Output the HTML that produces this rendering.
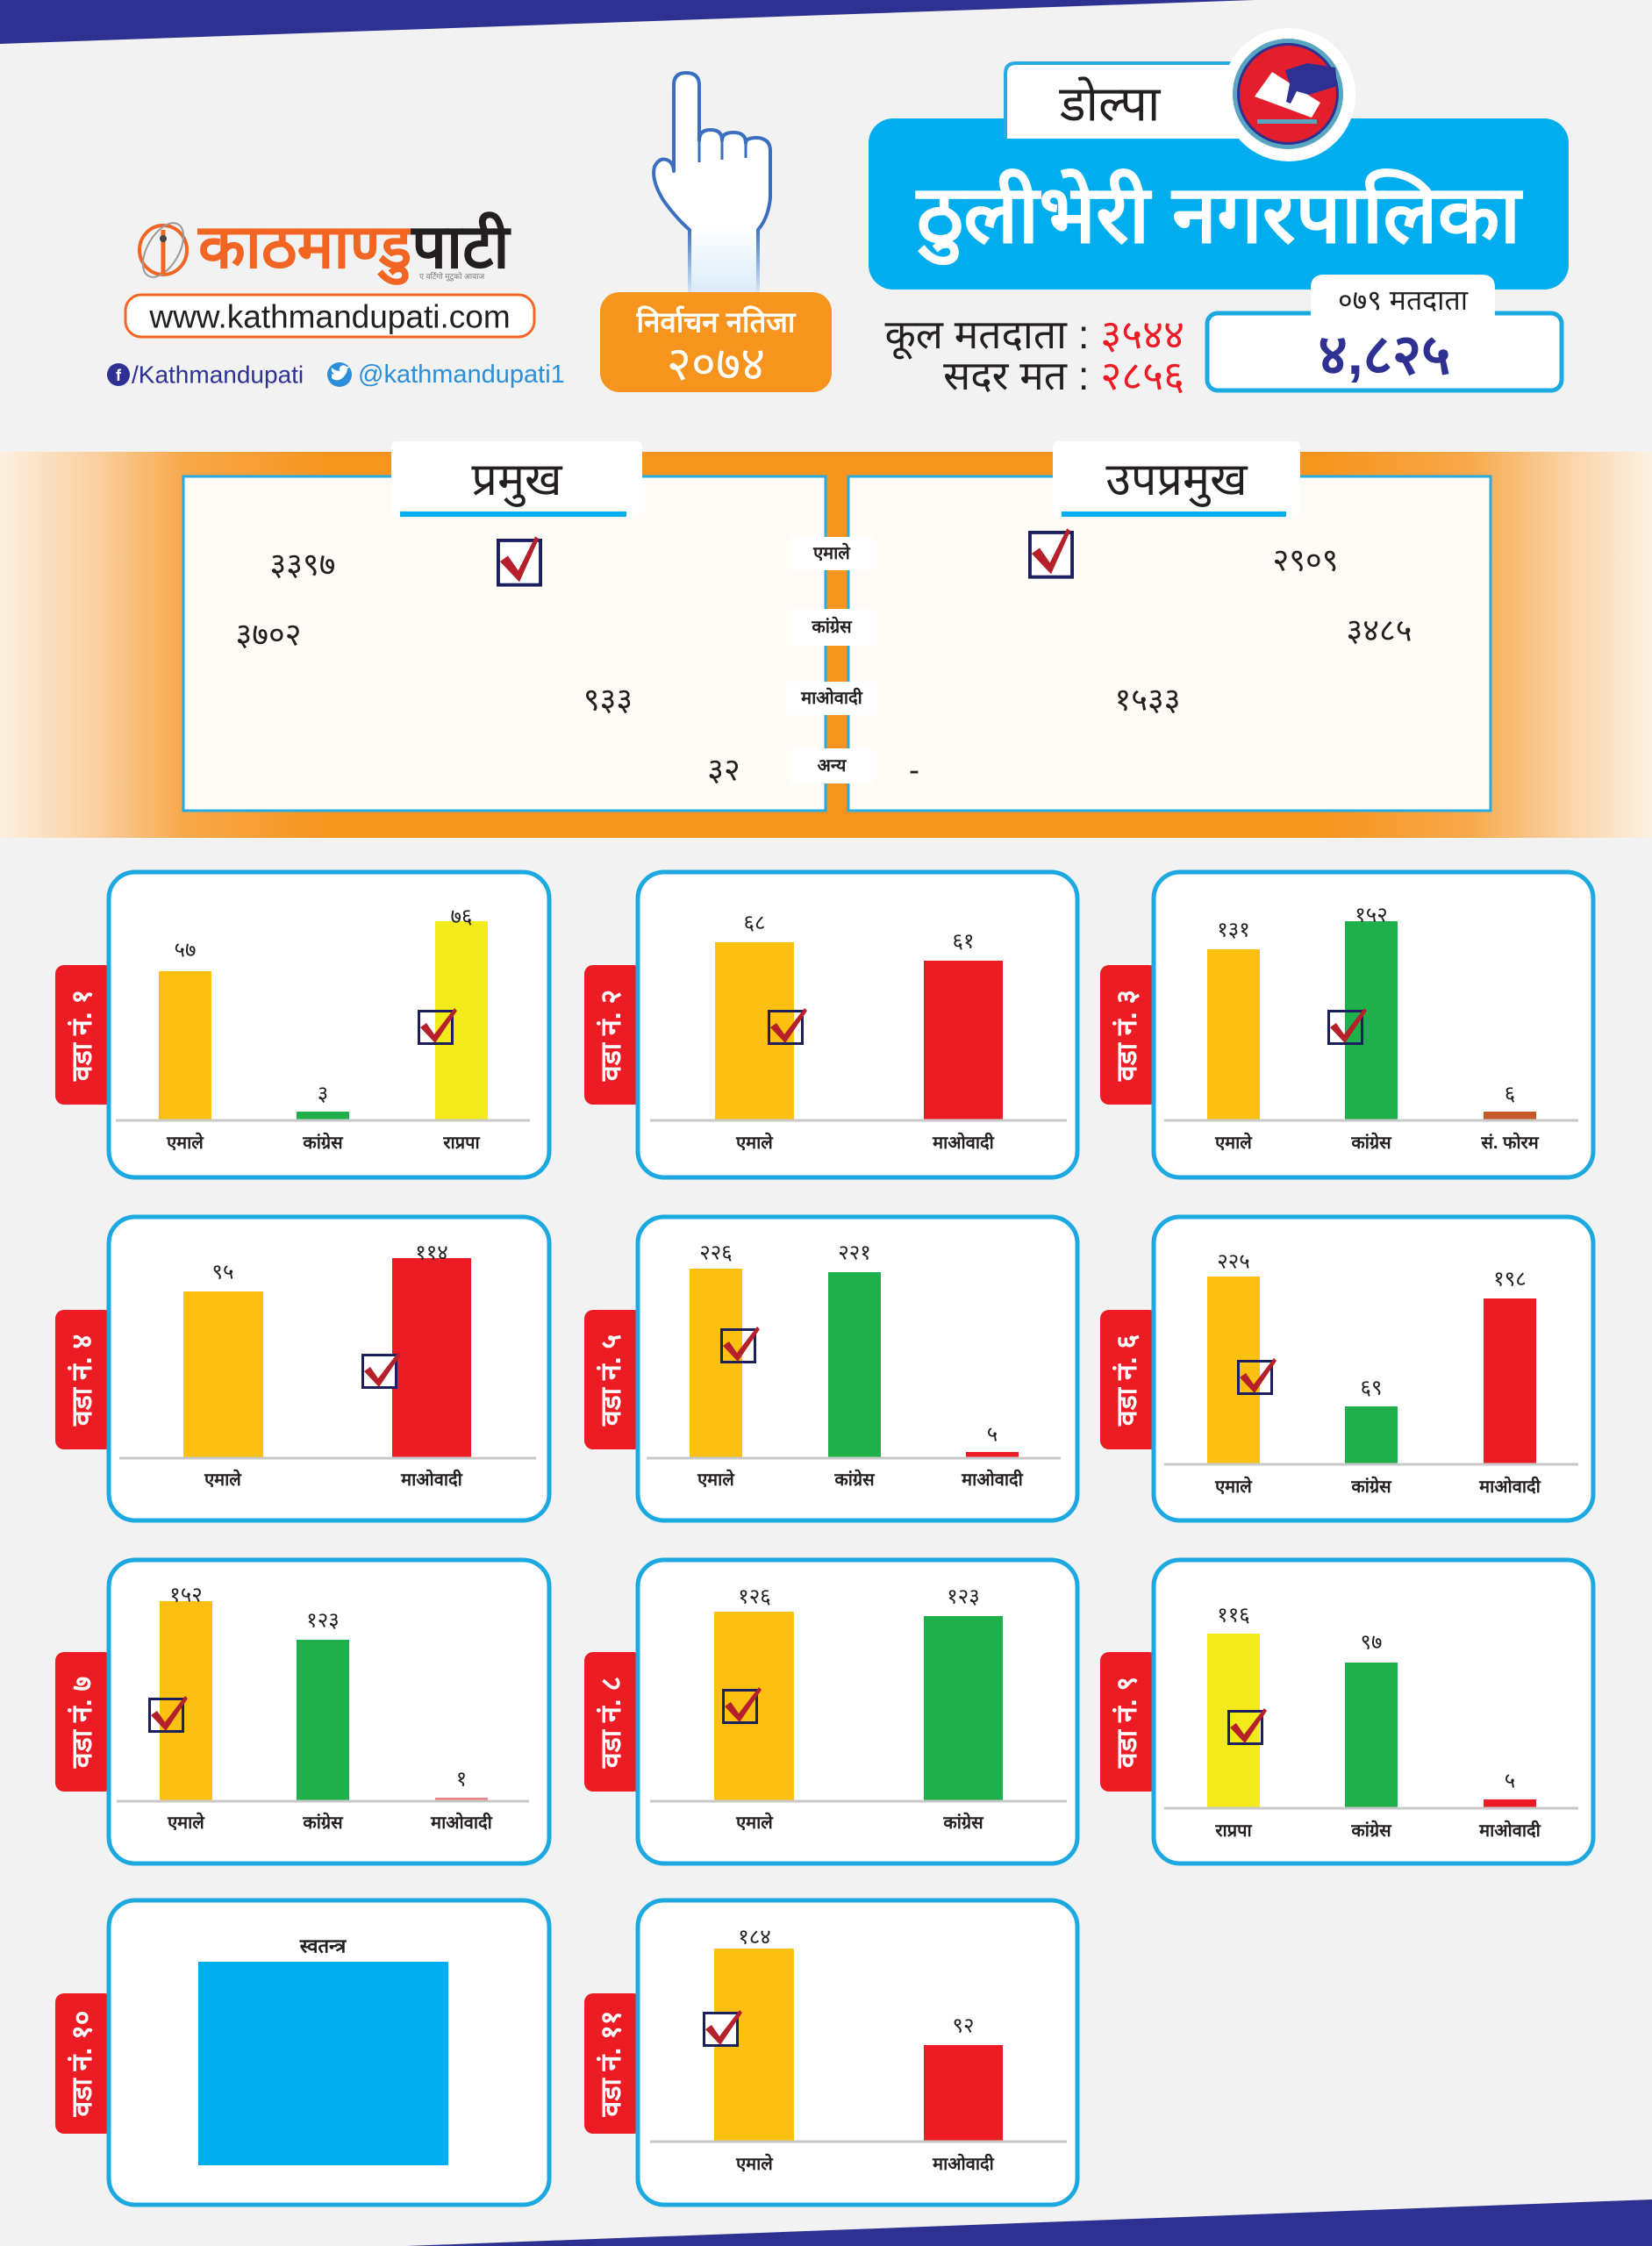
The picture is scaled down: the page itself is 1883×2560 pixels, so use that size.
<!DOCTYPE html>
<html>
<head>
<meta charset="utf-8">
<style>
  html,body{margin:0;padding:0;background:#F2F2F2;}
  body{width:1883px;height:2560px;overflow:hidden;}
  svg{display:block;}
  text{font-family:"Liberation Sans","DejaVu Sans",sans-serif;}
</style>
</head>
<body>
<svg width="1883" height="2560" viewBox="0 0 1883 2560" xmlns="http://www.w3.org/2000/svg">
<defs>
  <linearGradient id="band" x1="0" x2="1" y1="0" y2="0">
    <stop offset="0" stop-color="#FCEFE0"/>
    <stop offset="0.06" stop-color="#F9CF9E"/>
    <stop offset="0.11" stop-color="#F7A94B"/>
    <stop offset="0.2" stop-color="#F7941D"/>
    <stop offset="0.8" stop-color="#F7941D"/>
    <stop offset="0.89" stop-color="#F7A94B"/>
    <stop offset="0.95" stop-color="#F9D4A8"/>
    <stop offset="1" stop-color="#FCF0E2"/>
  </linearGradient>
  <linearGradient id="handStroke" gradientUnits="userSpaceOnUse" x1="0" y1="83" x2="0" y2="333">
    <stop offset="0" stop-color="#3A6FBF"/>
    <stop offset="0.7" stop-color="#3A6FBF"/>
    <stop offset="1" stop-color="#D4E6F7"/>
  </linearGradient>
  <linearGradient id="handFill" gradientUnits="userSpaceOnUse" x1="0" y1="83" x2="0" y2="333">
    <stop offset="0" stop-color="#FFFFFF"/>
    <stop offset="0.7" stop-color="#FFFFFF"/>
    <stop offset="1" stop-color="#DCEBF8"/>
  </linearGradient>
</defs>

<!-- background -->
<rect x="0" y="0" width="1883" height="2560" fill="#F2F2F2"/>
<polygon points="0,0 1430,0 0,50" fill="#2E3192"/>
<polygon points="463,2560 1883,2507 1883,2560" fill="#2E3192"/>

<!-- ===== HEADER ===== -->
<!-- logo icon -->
<g>
  <ellipse cx="186" cy="285" rx="27" ry="28" fill="none" stroke="#F26522" stroke-width="4"/>
  <ellipse cx="186" cy="285" rx="34" ry="18" fill="none" stroke="#9A9A9A" stroke-width="2" transform="rotate(-60 186 285)"/>
  <line x1="186" y1="262" x2="186" y2="312" stroke="#F26522" stroke-width="5"/>
  <circle cx="186" cy="272" r="4" fill="#444"/>
</g>
<text x="226" y="305" font-size="70" font-weight="bold" fill="#F26522">काठमाण्डु<tspan fill="#231F20">पाटी</tspan></text>
<text x="478" y="318" font-size="9" fill="#777">ए वर्टिगो मुटुको आवाज</text>

<rect x="143" y="336" width="466" height="48" rx="18" fill="#FFFFFF" stroke="#F26522" stroke-width="3"/>
<text x="376" y="361" font-size="37" fill="#231F20" text-anchor="middle" dominant-baseline="central">www.kathmandupati.com</text>

<!-- social -->
<circle cx="135" cy="427" r="13" fill="#2E3192"/>
<text x="135" y="428" font-size="18" font-weight="bold" fill="#FFFFFF" text-anchor="middle" dominant-baseline="central">f</text>
<text x="150" y="427" font-size="28" fill="#2E3192" dominant-baseline="central">/Kathmandupati</text>
<circle cx="387" cy="427" r="14" fill="#2A8FD8"/>
<path d="M378,431 Q386,437 393,428 Q396,424 396,420 L399,418 L395,418 Q392,415 389,417 Q386,419 387,423 Q382,423 378,419 Q377,424 381,426 Q379,427 378,426 Z" fill="#FFFFFF"/>
<text x="408" y="427" font-size="29" fill="#2A8FD8" dominant-baseline="central">@kathmandupati1</text>

<!-- hand -->
<path d="M786,333 L786,262 Q770,248 756,228 Q742,205 746,190 Q752,178 762,183 Q768,187 768,195 L768,97 Q768,83 782,83 Q797,83 797,97 L797,160 Q797,148 810,148 Q823,148 823,160 Q823,151 836,151 Q850,151 850,163 Q850,157 863,157 Q878,158 878,172 L878,225 Q876,248 864,262 L864,333 Z"
      fill="url(#handFill)" stroke="none"/>
<path d="M786,333 L786,262 Q770,248 756,228 Q742,205 746,190 Q752,178 762,183 Q768,187 768,195 L768,97 Q768,83 782,83 Q797,83 797,97 L797,160 Q797,148 810,148 Q823,148 823,160 Q823,151 836,151 Q850,151 850,163 Q850,157 863,157 Q878,158 878,172 L878,225 Q876,248 864,262 L864,333"
      fill="none" stroke="url(#handStroke)" stroke-width="4" stroke-linejoin="round"/>
<path d="M797,160 L797,185 M823,160 L823,182 M850,163 L850,180" stroke="#3A6FBF" stroke-width="3" fill="none"/>

<!-- orange result box -->
<rect x="684" y="333" width="264" height="114" rx="22" fill="#F7941D"/>
<text x="816" y="367" font-size="33" font-weight="bold" fill="#FFFFFF" text-anchor="middle" dominant-baseline="central">निर्वाचन नतिजा</text>
<text x="816" y="415" font-size="54" fill="#FFFFFF" text-anchor="middle" dominant-baseline="central">२०७४</text>

<!-- district label -->
<rect x="990" y="135" width="798" height="195" rx="28" fill="#00AEEF"/>
<path d="M1146,158 L1146,84 Q1146,72 1158,72 L1420,72 L1420,158 Z" fill="#FFFFFF"/>
<path d="M1146,158 L1146,84 Q1146,72 1158,72 L1420,72" fill="none" stroke="#29ABE2" stroke-width="4"/>
<text x="1265" y="118" font-size="56" fill="#231F20" text-anchor="middle" dominant-baseline="central">डोल्पा</text>

<!-- ballot logo -->
<circle cx="1469" cy="108" r="76" fill="#FFFFFF"/>
<circle cx="1468" cy="107" r="63" fill="#58A6C2"/>
<circle cx="1468" cy="107" r="58" fill="#2E3192"/>
<circle cx="1468" cy="107" r="55" fill="#E31E2D"/>
<polygon points="1450,82 1430,110 1495,134 1505,117" fill="#FFFFFF"/>
<polygon points="1465,80 1490,72 1522,77 1524,98 1492,108 1478,104 1471,118 1466,116 1470,96" fill="#2E3192"/>
<rect x="1433" y="136" width="68" height="5" fill="#58A6C2"/>

<text x="1389" y="245" font-size="92" font-weight="bold" fill="#FFFFFF" text-anchor="middle" dominant-baseline="central">ठुलीभेरी  नगरपालिका</text>

<!-- voters -->
<rect x="1376" y="357" width="404" height="88" rx="12" fill="#FFFFFF" stroke="#1CA8E0" stroke-width="5"/>
<path d="M1494,362 L1494,328 Q1494,313 1509,313 L1689,313 Q1704,313 1704,328 L1704,362 Z" fill="#FFFFFF"/>
<text x="1599" y="342" font-size="32" fill="#231F20" text-anchor="middle" dominant-baseline="central">०७९ मतदाता</text>
<text x="1578" y="404" font-size="64" font-weight="bold" fill="#2E3192" text-anchor="middle" dominant-baseline="central">४,८२५</text>

<text x="1350" y="381" font-size="46" fill="#231F20" text-anchor="end" dominant-baseline="central">कूल मतदाता : <tspan fill="#ED1C24">३५४४</tspan></text>
<text x="1350" y="428" font-size="46" fill="#231F20" text-anchor="end" dominant-baseline="central">सदर मत : <tspan fill="#ED1C24">२८५६</tspan></text>

<!-- ===== MAIN BAND ===== -->
<rect x="0" y="515" width="1883" height="440" fill="url(#band)"/>
<rect x="209" y="543" width="732" height="381" fill="#FFFBF6" stroke="#29ABE2" stroke-width="3"/>
<rect x="967" y="543" width="732" height="381" fill="#FFFBF6" stroke="#29ABE2" stroke-width="3"/>

<!-- tabs -->
<rect x="446" y="503" width="286" height="85" rx="6" fill="#FFFFFF"/>
<rect x="456" y="583" width="258" height="6" fill="#00AEEF"/>
<text x="589" y="547" font-size="52" fill="#231F20" text-anchor="middle" dominant-baseline="central">प्रमुख</text>
<rect x="1200" y="503" width="282" height="85" rx="6" fill="#FFFFFF"/>
<rect x="1210" y="583" width="256" height="6" fill="#00AEEF"/>
<text x="1341" y="547" font-size="52" fill="#231F20" text-anchor="middle" dominant-baseline="central">उपप्रमुख</text>

<!-- center labels -->
<rect x="900" y="612" width="96" height="38" fill="#FFFFFF"/>
<text x="948" y="631" font-size="20" font-weight="bold" fill="#231F20" text-anchor="middle" dominant-baseline="central">एमाले</text>
<rect x="900" y="694" width="96" height="42" fill="#FFFFFF"/>
<text x="948" y="715" font-size="20" font-weight="bold" fill="#231F20" text-anchor="middle" dominant-baseline="central">कांग्रेस</text>
<rect x="896" y="777" width="104" height="38" fill="#FFFFFF"/>
<text x="948" y="796" font-size="20" font-weight="bold" fill="#231F20" text-anchor="middle" dominant-baseline="central">माओवादी</text>
<rect x="900" y="853" width="96" height="40" fill="#FFFFFF"/>
<text x="948" y="873" font-size="20" font-weight="bold" fill="#231F20" text-anchor="middle" dominant-baseline="central">अन्य</text>

<!-- numbers -->
<g font-size="36" fill="#231F20" text-anchor="middle" dominant-baseline="central">
  <text x="345" y="643" dominant-baseline="central">३३९७</text>
  <text x="306" y="723" dominant-baseline="central">३७०२</text>
  <text x="693" y="797" dominant-baseline="central">९३३</text>
  <text x="825" y="877" dominant-baseline="central">३२</text>
  <text x="1488" y="638" dominant-baseline="central">२९०९</text>
  <text x="1572" y="718" dominant-baseline="central">३४८५</text>
  <text x="1308" y="797" dominant-baseline="central">१५३३</text>
  <text x="1042" y="877" dominant-baseline="central">-</text>
</g>

<!-- big checkboxes -->
<g transform="translate(566,614) scale(1.3)">
  <rect x="1.5" y="1.5" width="37" height="39" fill="#FFFFFF" stroke="#1B1F5E" stroke-width="3"/>
  <polygon points="3,20 10,15 19,28 34,-2 37,0 20,38" fill="#B5202A"/>
</g>
<g transform="translate(1172,605) scale(1.3)">
  <rect x="1.5" y="1.5" width="37" height="39" fill="#FFFFFF" stroke="#1B1F5E" stroke-width="3"/>
  <polygon points="3,20 10,15 19,28 34,-2 37,0 20,38" fill="#B5202A"/>
</g>

<!-- ===== WARD CARDS ===== -->
<!-- Card 1 -->
<rect x="63" y="1100" width="66" height="159" rx="10" fill="#ED1C24"/>
<rect x="124" y="994" width="502" height="348" rx="30" fill="#FFFFFF" stroke="#1CA8E0" stroke-width="5"/>
<text x="93" y="1180" font-size="32" font-weight="bold" fill="#FFFFFF" text-anchor="middle" dominant-baseline="central" transform="rotate(-90 93 1180)">वडा नं. १</text>
<rect x="181" y="1107" width="60" height="169" fill="#FDC010"/>
<rect x="338" y="1267" width="60" height="9" fill="#1FB04B"/>
<rect x="496" y="1050" width="60" height="226" fill="#F2EA1A"/>
<line x1="132" y1="1277" x2="604" y2="1277" stroke="#C8C8C8" stroke-width="3"/>
<g font-size="24" fill="#231F20" text-anchor="middle">
  <text x="211" y="1083" dominant-baseline="central">५७</text>
  <text x="368" y="1247" dominant-baseline="central">३</text>
  <text x="526" y="1045" dominant-baseline="central">७६</text>
</g>
<g font-size="20" font-weight="bold" fill="#231F20" text-anchor="middle">
  <text x="211" y="1303" dominant-baseline="central">एमाले</text>
  <text x="368" y="1303" dominant-baseline="central">कांग्रेस</text>
  <text x="526" y="1303" dominant-baseline="central">राप्रपा</text>
</g>
<g transform="translate(476,1151)">
  <rect x="1.5" y="1.5" width="38" height="37" fill="none" stroke="#1B1F5E" stroke-width="3"/>
  <polygon points="3,20 10,15 19,28 42,-2 45,1 20,38" fill="#B5202A"/>
</g>

<!-- Card 2 -->
<rect x="666" y="1100" width="66" height="159" rx="10" fill="#ED1C24"/>
<rect x="727" y="994" width="501" height="348" rx="30" fill="#FFFFFF" stroke="#1CA8E0" stroke-width="5"/>
<text x="696" y="1180" font-size="32" font-weight="bold" fill="#FFFFFF" text-anchor="middle" dominant-baseline="central" transform="rotate(-90 696 1180)">वडा नं. २</text>
<rect x="815" y="1074" width="90" height="202" fill="#FDC010"/>
<rect x="1053" y="1095" width="90" height="181" fill="#ED1C24"/>
<line x1="741" y1="1277" x2="1216" y2="1277" stroke="#C8C8C8" stroke-width="3"/>
<g font-size="24" fill="#231F20" text-anchor="middle">
  <text x="860" y="1052" dominant-baseline="central">६८</text>
  <text x="1098" y="1073" dominant-baseline="central">६१</text>
</g>
<g font-size="20" font-weight="bold" fill="#231F20" text-anchor="middle">
  <text x="860" y="1303" dominant-baseline="central">एमाले</text>
  <text x="1098" y="1303" dominant-baseline="central">माओवादी</text>
</g>
<g transform="translate(875,1151)">
  <rect x="1.5" y="1.5" width="38" height="37" fill="none" stroke="#1B1F5E" stroke-width="3"/>
  <polygon points="3,20 10,15 19,28 42,-2 45,1 20,38" fill="#B5202A"/>
</g>

<!-- Card 3 -->
<rect x="1254" y="1100" width="66" height="159" rx="10" fill="#ED1C24"/>
<rect x="1315" y="994" width="501" height="348" rx="30" fill="#FFFFFF" stroke="#1CA8E0" stroke-width="5"/>
<text x="1284" y="1180" font-size="32" font-weight="bold" fill="#FFFFFF" text-anchor="middle" dominant-baseline="central" transform="rotate(-90 1284 1180)">वडा नं. ३</text>
<rect x="1376" y="1082" width="60" height="194" fill="#FDC010"/>
<rect x="1533" y="1050" width="60" height="226" fill="#1FB04B"/>
<rect x="1691" y="1267" width="60" height="9" fill="#C65A28"/>
<line x1="1327" y1="1277" x2="1799" y2="1277" stroke="#C8C8C8" stroke-width="3"/>
<g font-size="24" fill="#231F20" text-anchor="middle">
  <text x="1406" y="1060" dominant-baseline="central">१३१</text>
  <text x="1563" y="1043" dominant-baseline="central">१५२</text>
  <text x="1721" y="1247" dominant-baseline="central">६</text>
</g>
<g font-size="20" font-weight="bold" fill="#231F20" text-anchor="middle">
  <text x="1406" y="1303" dominant-baseline="central">एमाले</text>
  <text x="1563" y="1303" dominant-baseline="central">कांग्रेस</text>
  <text x="1721" y="1303" dominant-baseline="central">सं. फोरम</text>
</g>
<g transform="translate(1513,1151)">
  <rect x="1.5" y="1.5" width="38" height="37" fill="none" stroke="#1B1F5E" stroke-width="3"/>
  <polygon points="3,20 10,15 19,28 42,-2 45,1 20,38" fill="#B5202A"/>
</g>

<!-- Card 4 -->
<rect x="63" y="1493" width="66" height="159" rx="10" fill="#ED1C24"/>
<rect x="124" y="1387" width="502" height="346" rx="30" fill="#FFFFFF" stroke="#1CA8E0" stroke-width="5"/>
<text x="93" y="1573" font-size="32" font-weight="bold" fill="#FFFFFF" text-anchor="middle" dominant-baseline="central" transform="rotate(-90 93 1573)">वडा नं. ४</text>
<rect x="209" y="1472" width="91" height="189" fill="#FDC010"/>
<rect x="447" y="1434" width="90" height="227" fill="#ED1C24"/>
<line x1="136" y1="1662" x2="611" y2="1662" stroke="#C8C8C8" stroke-width="3"/>
<g font-size="24" fill="#231F20" text-anchor="middle">
  <text x="254" y="1450" dominant-baseline="central">९५</text>
  <text x="492" y="1428" dominant-baseline="central">११४</text>
</g>
<g font-size="20" font-weight="bold" fill="#231F20" text-anchor="middle">
  <text x="254" y="1687" dominant-baseline="central">एमाले</text>
  <text x="492" y="1687" dominant-baseline="central">माओवादी</text>
</g>
<g transform="translate(412,1543)">
  <rect x="1.5" y="1.5" width="38" height="37" fill="#FFFFFF" stroke="#1B1F5E" stroke-width="3"/>
  <polygon points="3,20 10,15 19,28 42,-2 45,1 20,38" fill="#B5202A"/>
</g>

<!-- Card 5 -->
<rect x="666" y="1493" width="66" height="159" rx="10" fill="#ED1C24"/>
<rect x="727" y="1387" width="501" height="346" rx="30" fill="#FFFFFF" stroke="#1CA8E0" stroke-width="5"/>
<text x="696" y="1573" font-size="32" font-weight="bold" fill="#FFFFFF" text-anchor="middle" dominant-baseline="central" transform="rotate(-90 696 1573)">वडा नं. ५</text>
<rect x="786" y="1446" width="60" height="215" fill="#FDC010"/>
<rect x="944" y="1450" width="60" height="211" fill="#1FB04B"/>
<rect x="1101" y="1655" width="60" height="6" fill="#ED1C24"/>
<line x1="737" y1="1662" x2="1209" y2="1662" stroke="#C8C8C8" stroke-width="3"/>
<g font-size="24" fill="#231F20" text-anchor="middle">
  <text x="816" y="1428" dominant-baseline="central">२२६</text>
  <text x="974" y="1428" dominant-baseline="central">२२१</text>
  <text x="1131" y="1635" dominant-baseline="central">५</text>
</g>
<g font-size="20" font-weight="bold" fill="#231F20" text-anchor="middle">
  <text x="816" y="1687" dominant-baseline="central">एमाले</text>
  <text x="974" y="1687" dominant-baseline="central">कांग्रेस</text>
  <text x="1131" y="1687" dominant-baseline="central">माओवादी</text>
</g>
<g transform="translate(821,1514)">
  <rect x="1.5" y="1.5" width="38" height="37" fill="none" stroke="#1B1F5E" stroke-width="3"/>
  <polygon points="3,20 10,15 19,28 42,-2 45,1 20,38" fill="#B5202A"/>
</g>

<!-- Card 6 -->
<rect x="1254" y="1493" width="66" height="159" rx="10" fill="#ED1C24"/>
<rect x="1315" y="1387" width="501" height="346" rx="30" fill="#FFFFFF" stroke="#1CA8E0" stroke-width="5"/>
<text x="1284" y="1573" font-size="32" font-weight="bold" fill="#FFFFFF" text-anchor="middle" dominant-baseline="central" transform="rotate(-90 1284 1573)">वडा नं. ६</text>
<rect x="1376" y="1455" width="60" height="213" fill="#FDC010"/>
<rect x="1533" y="1603" width="60" height="65" fill="#1FB04B"/>
<rect x="1691" y="1480" width="60" height="188" fill="#ED1C24"/>
<line x1="1327" y1="1669" x2="1799" y2="1669" stroke="#C8C8C8" stroke-width="3"/>
<g font-size="24" fill="#231F20" text-anchor="middle">
  <text x="1406" y="1438" dominant-baseline="central">२२५</text>
  <text x="1563" y="1582" dominant-baseline="central">६९</text>
  <text x="1721" y="1458" dominant-baseline="central">१९८</text>
</g>
<g font-size="20" font-weight="bold" fill="#231F20" text-anchor="middle">
  <text x="1406" y="1695" dominant-baseline="central">एमाले</text>
  <text x="1563" y="1695" dominant-baseline="central">कांग्रेस</text>
  <text x="1721" y="1695" dominant-baseline="central">माओवादी</text>
</g>
<g transform="translate(1410,1550)">
  <rect x="1.5" y="1.5" width="38" height="37" fill="none" stroke="#1B1F5E" stroke-width="3"/>
  <polygon points="3,20 10,15 19,28 42,-2 45,1 20,38" fill="#B5202A"/>
</g>

<!-- Card 7 -->
<rect x="63" y="1883" width="66" height="159" rx="10" fill="#ED1C24"/>
<rect x="124" y="1778" width="502" height="346" rx="30" fill="#FFFFFF" stroke="#1CA8E0" stroke-width="5"/>
<text x="93" y="1963" font-size="32" font-weight="bold" fill="#FFFFFF" text-anchor="middle" dominant-baseline="central" transform="rotate(-90 93 1963)">वडा नं. ७</text>
<rect x="182" y="1825" width="60" height="227" fill="#FDC010"/>
<rect x="338" y="1869" width="60" height="183" fill="#1FB04B"/>
<rect x="496" y="2049" width="60" height="3" fill="#F08080"/>
<line x1="133" y1="2053" x2="603" y2="2053" stroke="#C8C8C8" stroke-width="3"/>
<g font-size="24" fill="#231F20" text-anchor="middle">
  <text x="212" y="1818" dominant-baseline="central">१५२</text>
  <text x="368" y="1847" dominant-baseline="central">१२३</text>
  <text x="526" y="2028" dominant-baseline="central">१</text>
</g>
<g font-size="20" font-weight="bold" fill="#231F20" text-anchor="middle">
  <text x="212" y="2078" dominant-baseline="central">एमाले</text>
  <text x="368" y="2078" dominant-baseline="central">कांग्रेस</text>
  <text x="526" y="2078" dominant-baseline="central">माओवादी</text>
</g>
<g transform="translate(169,1935)">
  <rect x="1.5" y="1.5" width="38" height="37" fill="none" stroke="#1B1F5E" stroke-width="3"/>
  <polygon points="3,20 10,15 19,28 42,-2 45,1 20,38" fill="#B5202A"/>
</g>

<!-- Card 8 -->
<rect x="666" y="1883" width="66" height="159" rx="10" fill="#ED1C24"/>
<rect x="727" y="1778" width="501" height="346" rx="30" fill="#FFFFFF" stroke="#1CA8E0" stroke-width="5"/>
<text x="696" y="1963" font-size="32" font-weight="bold" fill="#FFFFFF" text-anchor="middle" dominant-baseline="central" transform="rotate(-90 696 1963)">वडा नं. ८</text>
<rect x="814" y="1837" width="91" height="215" fill="#FDC010"/>
<rect x="1053" y="1842" width="90" height="210" fill="#1FB04B"/>
<line x1="741" y1="2053" x2="1216" y2="2053" stroke="#C8C8C8" stroke-width="3"/>
<g font-size="24" fill="#231F20" text-anchor="middle">
  <text x="860" y="1820" dominant-baseline="central">१२६</text>
  <text x="1098" y="1820" dominant-baseline="central">१२३</text>
</g>
<g font-size="20" font-weight="bold" fill="#231F20" text-anchor="middle">
  <text x="860" y="2078" dominant-baseline="central">एमाले</text>
  <text x="1098" y="2078" dominant-baseline="central">कांग्रेस</text>
</g>
<g transform="translate(823,1925)">
  <rect x="1.5" y="1.5" width="38" height="37" fill="none" stroke="#1B1F5E" stroke-width="3"/>
  <polygon points="3,20 10,15 19,28 42,-2 45,1 20,38" fill="#B5202A"/>
</g>

<!-- Card 9 -->
<rect x="1254" y="1883" width="66" height="159" rx="10" fill="#ED1C24"/>
<rect x="1315" y="1778" width="501" height="346" rx="30" fill="#FFFFFF" stroke="#1CA8E0" stroke-width="5"/>
<text x="1284" y="1963" font-size="32" font-weight="bold" fill="#FFFFFF" text-anchor="middle" dominant-baseline="central" transform="rotate(-90 1284 1963)">वडा नं. ९</text>
<rect x="1376" y="1862" width="60" height="198" fill="#F2EA1A"/>
<rect x="1533" y="1895" width="60" height="165" fill="#1FB04B"/>
<rect x="1691" y="2051" width="60" height="9" fill="#ED1C24"/>
<line x1="1327" y1="2061" x2="1799" y2="2061" stroke="#C8C8C8" stroke-width="3"/>
<g font-size="24" fill="#231F20" text-anchor="middle">
  <text x="1406" y="1841" dominant-baseline="central">११६</text>
  <text x="1563" y="1872" dominant-baseline="central">९७</text>
  <text x="1721" y="2030" dominant-baseline="central">५</text>
</g>
<g font-size="20" font-weight="bold" fill="#231F20" text-anchor="middle">
  <text x="1406" y="2087" dominant-baseline="central">राप्रपा</text>
  <text x="1563" y="2087" dominant-baseline="central">कांग्रेस</text>
  <text x="1721" y="2087" dominant-baseline="central">माओवादी</text>
</g>
<g transform="translate(1399,1949)">
  <rect x="1.5" y="1.5" width="38" height="37" fill="none" stroke="#1B1F5E" stroke-width="3"/>
  <polygon points="3,20 10,15 19,28 42,-2 45,1 20,38" fill="#B5202A"/>
</g>

<!-- Card 10 -->
<rect x="63" y="2272" width="66" height="160" rx="10" fill="#ED1C24"/>
<rect x="124" y="2166" width="502" height="347" rx="30" fill="#FFFFFF" stroke="#1CA8E0" stroke-width="5"/>
<text x="93" y="2352" font-size="32" font-weight="bold" fill="#FFFFFF" text-anchor="middle" dominant-baseline="central" transform="rotate(-90 93 2352)">वडा नं. १०</text>
<rect x="226" y="2236" width="285" height="232" fill="#00AEEF"/>
<text x="368" y="2218" font-size="22" font-weight="bold" fill="#231F20" text-anchor="middle" dominant-baseline="central">स्वतन्त्र</text>

<!-- Card 11 -->
<rect x="666" y="2272" width="66" height="160" rx="10" fill="#ED1C24"/>
<rect x="727" y="2166" width="501" height="347" rx="30" fill="#FFFFFF" stroke="#1CA8E0" stroke-width="5"/>
<text x="696" y="2352" font-size="32" font-weight="bold" fill="#FFFFFF" text-anchor="middle" dominant-baseline="central" transform="rotate(-90 696 2352)">वडा नं. ११</text>
<rect x="814" y="2221" width="91" height="219" fill="#FDC010"/>
<rect x="1053" y="2331" width="90" height="109" fill="#ED1C24"/>
<line x1="741" y1="2441" x2="1216" y2="2441" stroke="#C8C8C8" stroke-width="3"/>
<g font-size="24" fill="#231F20" text-anchor="middle">
  <text x="860" y="2208" dominant-baseline="central">१८४</text>
  <text x="1098" y="2309" dominant-baseline="central">९२</text>
</g>
<g font-size="20" font-weight="bold" fill="#231F20" text-anchor="middle">
  <text x="860" y="2467" dominant-baseline="central">एमाले</text>
  <text x="1098" y="2467" dominant-baseline="central">माओवादी</text>
</g>
<g transform="translate(801,2293)">
  <rect x="1.5" y="1.5" width="38" height="37" fill="#FFFFFF" stroke="#1B1F5E" stroke-width="3"/>
  <polygon points="3,20 10,15 19,28 42,-2 45,1 20,38" fill="#B5202A"/>
</g>

</svg>
</body>
</html>
